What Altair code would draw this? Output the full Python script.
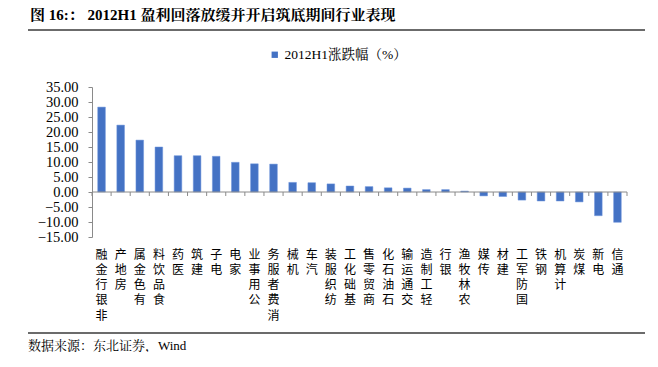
import altair as alt
import pandas as pd

categories = ["非银行金融", "房地产", "有色金属", "食品饮料", "医药", "建筑", "电子", "家电",
              "公用事业", "消费者服务", "机械", "汽车", "纺织服装", "基础化工", "商贸零售",
              "石油石化", "交通运输", "轻工制造", "银行", "农林牧渔", "传媒", "建材",
              "国防军工", "钢铁", "计算机", "煤炭", "电新", "通信"]
values = [28.3, 22.3, 17.3, 15.0, 12.1, 12.1, 11.9, 9.9, 9.4, 9.3, 3.2, 3.1, 2.7, 2.0,
          1.8, 1.4, 1.3, 0.8, 0.8, 0.3, -1.3, -1.5, -2.7, -3.0, -3.0, -3.3, -7.9, -10.1]
series_name = "2012H1涨跌幅（%）"
y_ticks = [-15, -10, -5, 0, 5, 10, 15, 20, 25, 30, 35]
title_text = "图  16:：  2012H1 盈利回落放缓并开启筑底期间行业表现"
source_text = "数据来源：东北证券，Wind"

FONT = "Liberation Serif, Noto Serif CJK SC, Noto Sans CJK SC"
W, H = 535, 150
BLUE = "#4472C4"
GRAY = "#8a8a8a"

df = pd.DataFrame({"industry": categories, "value": values, "series": series_name})
last_df = df.tail(1)
one = pd.DataFrame({"k": [0]})

xscale = alt.Scale(paddingInner=0, paddingOuter=0)
yscale = alt.Scale(domain=[-15, 35], nice=False, zero=False)
yaxis = alt.Axis(title=None, values=y_ticks, format=".2f", grid=False,
                 domainColor=GRAY, tickColor=GRAY, tickSize=4,
                 labelPadding=10, labelFont=FONT, labelFontSize=14.5,
                 labelColor="#000000", labelOverlap=False)
xaxis = alt.Axis(title=None, domain=False, ticks=False, labelAngle=0,
                 labelExpr="reverse(split(datum.label, ''))",
                 labelBaseline="top", labelPadding=12, labelFontSize=12,
                 labelLineHeight=15.3, labelFont="Noto Sans CJK SC",
                 labelColor="#000000", labelOverlap=False)

bars = alt.Chart(df).mark_bar(width={"band": 0.4}, stroke="#6f95dc", strokeWidth=0.5).encode(
    x=alt.X("industry:N", sort=categories, scale=xscale, axis=xaxis),
    y=alt.Y("value:Q", scale=yscale, axis=yaxis),
    color=alt.Color("series:N", scale=alt.Scale(range=[BLUE]),
                    legend=alt.Legend(title=None, orient="none", legendX=176, legendY=-39,
                                      symbolType="square", symbolSize=40, symbolStrokeWidth=0,
                                      labelFont=FONT, labelFontSize=13.5, labelOffset=3,
                                      labelColor="#000000", padding=0)),
)

zero_line = alt.Chart(one).mark_rule(color=GRAY, strokeWidth=1).encode(
    y=alt.YDatum(0, axis=yaxis, scale=yscale), x=alt.value(0), x2=alt.value(W))

ticks = alt.Chart(df).mark_rule(color=GRAY, strokeWidth=1).encode(
    x=alt.X("industry:N", sort=categories, bandPosition=0, scale=xscale, axis=xaxis),
    y=alt.YDatum(0, axis=yaxis, scale=yscale), y2=alt.datum(-1.33))

last_tick = alt.Chart(last_df).mark_rule(color=GRAY, strokeWidth=1).encode(
    x=alt.X("industry:N", sort=categories, bandPosition=1, scale=xscale, axis=xaxis),
    y=alt.YDatum(0, axis=yaxis, scale=yscale), y2=alt.datum(-1.33))

top_line = alt.Chart(one).mark_rule(color="#3a3a3a", strokeWidth=1.3).encode(
    x=alt.value(-64), x2=alt.value(553), y=alt.value(-57))
bottom_line = alt.Chart(one).mark_rule(color="#3a3a3a", strokeWidth=1.3).encode(
    x=alt.value(-64), x2=alt.value(553), y=alt.value(246))

source = alt.Chart(one).mark_text(align="left", baseline="middle", font=FONT,
                                  fontSize=13, color="#000000").encode(
    x=alt.value(-64), y=alt.value(259), text=alt.value(source_text))

chart = alt.layer(bars, zero_line, ticks, last_tick, top_line, bottom_line, source).properties(
    width=W, height=H,
    autosize=alt.AutoSizeParams(type="none"),
    padding={"left": 84, "top": 79, "right": 20, "bottom": 115},
    title=alt.Title(title_text, anchor="start", frame="group", dx=-62, offset=6,
                    font=FONT, fontSize=15, fontWeight="bold", color="#000000"),
).configure_view(stroke=None).configure_axisX(labelFlush=False).configure_axisY(labelOverlap=False)

chart.save("out.html", embed_options={"renderer": "svg", "actions": False})
